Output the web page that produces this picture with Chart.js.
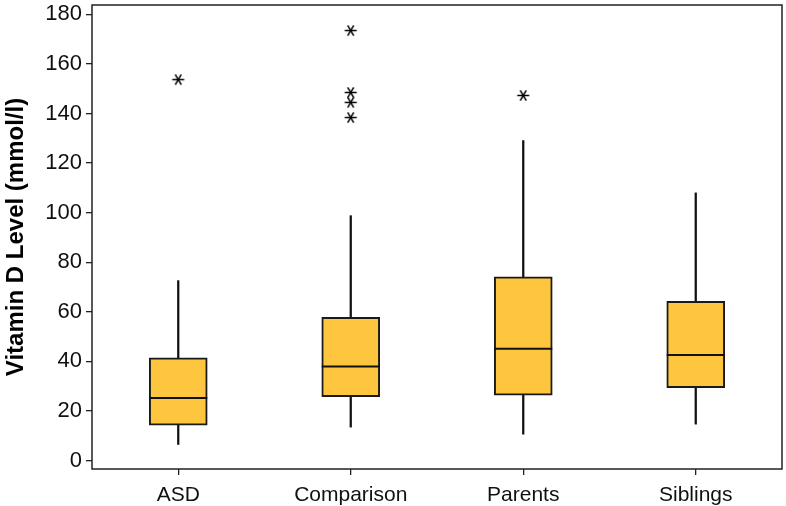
<!DOCTYPE html>
<html>
<head>
<meta charset="utf-8">
<script src="https://cdn.jsdelivr.net/npm/chart.js@4/dist/chart.umd.min.js"></script>
<style>
    html, body { margin: 0; padding: 0; background: #ffffff; }
</style>
</head>
<body>
<canvas id="vitaminChart" width="786" height="506"></canvas>
<script>
// =========================
// Chart Data
// =========================

const groups = ["ASD", "Comparison", "Parents", "Siblings"];

const whiskerLow = [6.5, 13.5, 10.7, 14.7];
const quartile1 = [14.3, 25.8, 26.4, 29.4];
const medians = [25.2, 38.0, 45.1, 42.6];
const quartile3 = [41.5, 57.8, 74.1, 64.2];
const whiskerHigh = [72.6, 98.8, 129.1, 108.0];

const outlierGroups = ["ASD", "Comparison", "Comparison", "Comparison", "Comparison", "Parents"];
const outlierValues = [153.7, 173.5, 148.5, 144.5, 138.4, 147.3];

const yTicks = [0, 20, 40, 60, 80, 100, 120, 140, 160, 180];

// =========================
// Asterisk marker
// =========================

function makeAsterisk() {
    const c = document.createElement("canvas");
    c.width = 15;
    c.height = 15;
    const g = c.getContext("2d");
    g.strokeStyle = "#000";
    g.lineWidth = 1.5;
    const r = 6;
    for (let k = 0; k < 3; k++) {
        const a = k * Math.PI / 3;
        g.beginPath();
        g.moveTo(7.5 - r * Math.cos(a), 7.5 - r * Math.sin(a));
        g.lineTo(7.5 + r * Math.cos(a), 7.5 + r * Math.sin(a));
        g.stroke();
    }
    return c;
}

// frame round the plot area
const framePlugin = {
    id: "frame",
    afterDraw(chart) {
        const a = chart.chartArea;
        const g = chart.ctx;
        g.save();
        g.strokeStyle = "#222";
        g.lineWidth = 1.5;
        g.strokeRect(a.left, a.top, a.right - a.left, a.bottom - a.top);
        g.restore();
    }
};

const ctx = document.getElementById("vitaminChart");

const chart = new Chart(ctx, {
    data: {
        labels: groups,
        datasets: [
            {
                type: "line",
                label: "Outliers",
                data: outlierGroups.map((g, i) => ({ x: g, y: outlierValues[i] })),
                showLine: false,
                pointStyle: makeAsterisk(),
                order: 0
            },
            {
                type: "line",
                label: "Median",
                data: medians,
                showLine: false,
                pointStyle: "line",
                pointRadius: 29,
                borderColor: "#111",
                borderWidth: 2,
                order: 1
            },
            {
                type: "bar",
                label: "IQR",
                data: quartile1.map((q, i) => [q, quartile3[i]]),
                backgroundColor: "#FDC63E",
                borderColor: "#1a1a1a",
                borderWidth: 2,
                borderSkipped: false,
                barThickness: 58,
                grouped: false,
                order: 2
            },
            {
                type: "bar",
                label: "Whiskers",
                data: whiskerLow.map((w, i) => [w, whiskerHigh[i]]),
                backgroundColor: "#111",
                barThickness: 1.6,
                grouped: false,
                order: 3
            }
        ]
    },
    options: {
        responsive: false,
        animation: false,
        devicePixelRatio: 1,
        layout: {
            autoPadding: false,
            padding: { top: 5, right: 4, left: 0, bottom: 0 }
        },
        plugins: {
            legend: { display: false },
            tooltip: { enabled: false }
        },
        scales: {
            x: {
                type: "category",
                grid: {
                    display: true,
                    offset: false,
                    drawOnChartArea: false,
                    drawTicks: true,
                    tickLength: 6,
                    color: "#222",
                    lineWidth: 1.3
                },
                border: { display: false },
                ticks: {
                    color: "#111",
                    padding: 8,
                    font: { family: "Liberation Sans", size: 21 }
                },
                afterFit(scale) {
                    scale.height = 37;
                    scale.paddingLeft = 0;
                    scale.paddingRight = 0;
                }
            },
            y: {
                min: -3.4,
                max: 183.8,
                grid: {
                    display: true,
                    drawOnChartArea: false,
                    drawTicks: true,
                    tickLength: 6,
                    color: "#222",
                    lineWidth: 1.3
                },
                border: { display: false },
                afterBuildTicks(scale) {
                    scale.ticks = yTicks.map(v => ({ value: v }));
                },
                ticks: {
                    color: "#111",
                    padding: 4,
                    font: { family: "Liberation Sans", size: 22 }
                },
                title: {
                    display: true,
                    text: "Vitamin D Level (mmol/l)",
                    color: "#000",
                    padding: { top: 2, bottom: 0 },
                    font: { family: "Liberation Sans", size: 24, weight: "bold" }
                },
                afterFit(scale) {
                    scale.width = 92;
                    scale.paddingTop = 0;
                    scale.paddingBottom = 0;
                }
            }
        }
    },
    plugins: [framePlugin]
});
</script>
</body>
</html>
